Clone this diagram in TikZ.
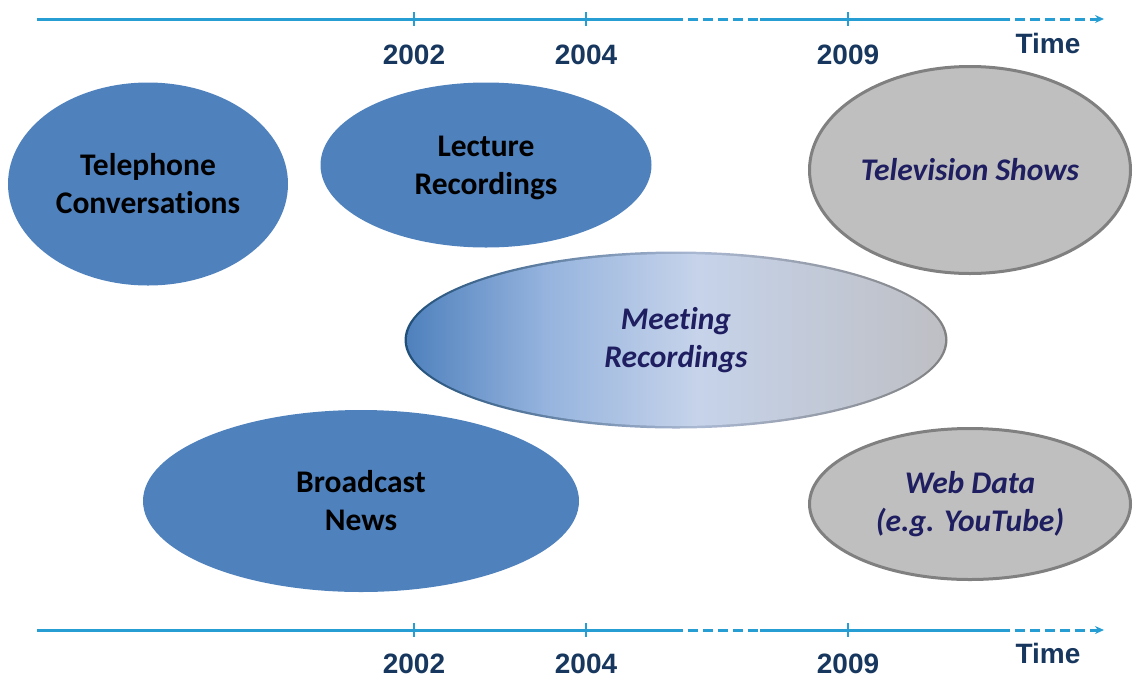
\documentclass[tikz,border=0pt]{standalone}
\usepackage{fontspec}
\newfontfamily\carl[Ligatures=NoCommon]{Carlito}
\newfontfamily\arialf{Liberation Sans}
\usetikzlibrary{shapes.geometric,arrows.meta}
\definecolor{blueF}{RGB}{79,129,189}
\definecolor{grayF}{RGB}{191,191,191}
\definecolor{grayB}{RGB}{128,128,128}
\definecolor{navyT}{RGB}{30,30,96}
\definecolor{yearC}{RGB}{23,55,94}
\definecolor{lineC}{RGB}{38,158,212}
\definecolor{qC}{RGB}{150,180,222}
\definecolor{midC}{RGB}{198,211,234}
\definecolor{rightC}{RGB}{190,191,196}
\definecolor{bordL}{RGB}{31,78,121}
\definecolor{bordM}{RGB}{170,184,210}
\definecolor{bordR}{RGB}{128,128,128}
\pgfdeclarehorizontalshading{meetshade}{100bp}{color(0bp)=(blueF); color(25bp)=(blueF); color(38bp)=(qC); color(52bp)=(midC); color(75bp)=(rightC); color(100bp)=(rightC)}
\pgfdeclarehorizontalshading{meetborder}{100bp}{color(0bp)=(bordL); color(25bp)=(bordL); color(52bp)=(bordM); color(75bp)=(bordR); color(100bp)=(bordR)}
\tikzset{
  blob/.style={ellipse, inner sep=0pt, align=center, font=\carl\bfseries\fontsize{31.5}{38}\selectfont},
  blueblob/.style={blob, fill=blueF, text=black},
  grayblob/.style={blob, fill=grayF, draw=grayB, line width=3pt, text=navyT, font=\carl\bfseries\itshape\fontsize{31.5}{38}\selectfont},
  blobtext/.style={inner sep=0pt, align=center, text=black, font=\carl\bfseries\fontsize{31.5}{38}\selectfont},
  tl/.style={draw=lineC, line width=3pt},
  tldash/.style={tl, dash pattern=on 10pt off 5pt},
  tick/.style={draw=lineC, line width=2pt},
  yearlbl/.style={anchor=base, text=yearC, font=\arialf\bfseries\fontsize{28}{30}\selectfont, inner sep=0pt},
}
\begin{document}
\begin{tikzpicture}[x=1pt,y=-1pt]
\useasboundingbox (0,0) rectangle (1134,678);

% ---------- timelines ----------
\foreach \yy/\nm in {19/T, 630/B}{
  \coordinate (\nm a) at (37,\yy);
  \coordinate (\nm b) at (673,\yy);
  \coordinate (\nm c) at (760,\yy);
  \coordinate (\nm d) at (1000,\yy);
  \coordinate (\nm e) at (1104,\yy);
  \draw[tl] (\nm a) -- (\nm b);
  \draw[tldash] (\nm b) -- (\nm c);
  \draw[tl] (\nm c) -- (\nm d);
  \draw[tldash, -{Stealth[length=9pt,width=8pt]}] (\nm d) -- (\nm e);
  \foreach \xx/\k in {414/1, 586/2, 848/3}{
    \coordinate (\nm t\k u) at (\xx,\yy-7);
    \coordinate (\nm t\k d) at (\xx,\yy+7);
    \draw[tick] (\nm t\k u) -- (\nm t\k d);
  }
}

\node[yearlbl] (y02t) at (414,64) {2002};
\node[yearlbl] (y04t) at (586,64) {2004};
\node[yearlbl] (y09t) at (848,64) {2009};
\node[yearlbl] (timet) at (1048,53) {Time};
\node[yearlbl] (y02b) at (414,673) {2002};
\node[yearlbl] (y04b) at (586,673) {2004};
\node[yearlbl] (y09b) at (848,673) {2009};
\node[yearlbl] (timeb) at (1048,663) {Time};

% ---------- ellipses ----------
\node[blueblob, minimum width=280pt, minimum height=203pt] (tel) at (148,184) {Telephone\\Conversations};
\node[blueblob, minimum width=331pt, minimum height=165pt] (lec) at (486,165) {};
\node[blobtext] (lect) at ([yshift=-3pt]lec.center) {Lecture\\Recordings};
\node[grayblob, minimum width=321pt, minimum height=207pt] (tv) at (970,170) {Television Shows};
\node[blueblob, minimum width=436pt, minimum height=182pt] (bn) at (361,501) {Broadcast\\News};
\node[grayblob, minimum width=321pt, minimum height=151pt] (web) at (970,504) {Web Data\\(e.g. YouTube)};

% meeting recordings: gradient border + gradient fill
\node[ellipse, inner sep=0pt, minimum width=543pt, minimum height=177pt,
      shading=meetborder] (meetb) at (676,340) {};
\node[ellipse, inner sep=0pt, minimum width=538pt, minimum height=172pt,
      shading=meetshade,
      align=center, text=navyT, font=\carl\bfseries\itshape\fontsize{31.5}{38}\selectfont] (meet) at (meetb.center) {Meeting\\Recordings};
\end{tikzpicture}
\end{document}
